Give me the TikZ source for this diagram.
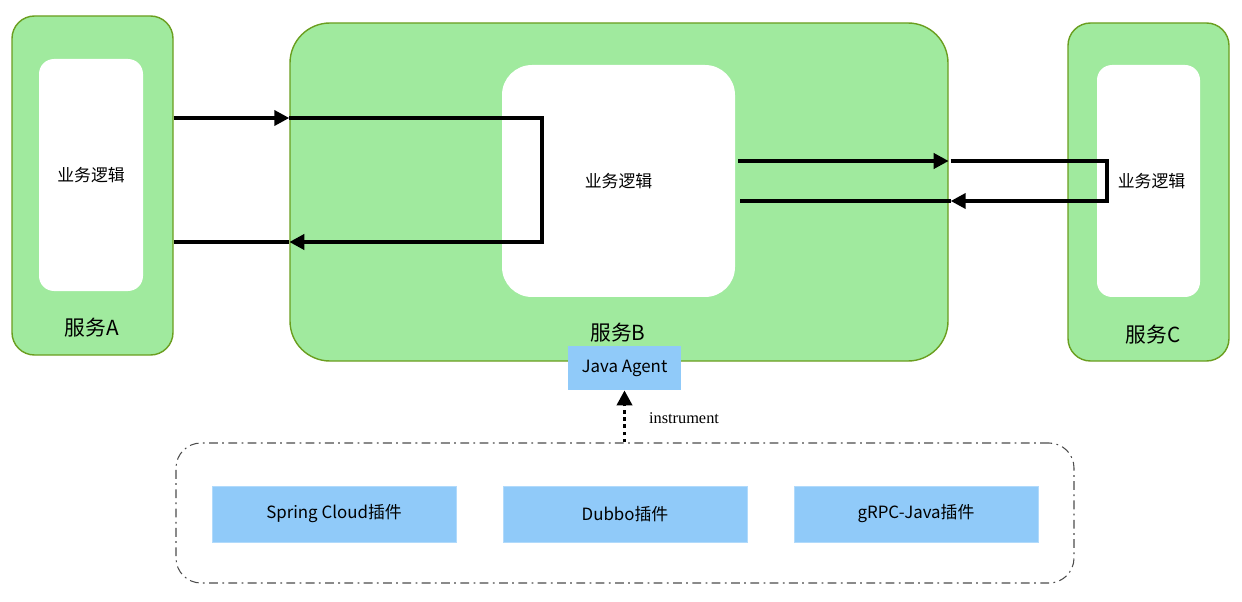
\documentclass[tikz,border=0pt]{standalone}
\usepackage{fontspec}
\setmainfont{Noto Sans CJK SC}
\newfontfamily\serifface{Liberation Serif}
\usetikzlibrary{arrows.meta,positioning}
\definecolor{svcgreen}{HTML}{A0EA9E}
\definecolor{svcborder}{HTML}{6A9E1F}
\definecolor{plugblue}{HTML}{90CAF9}
\begin{document}
\begin{tikzpicture}
	\tikzset{
		service/.style={draw=svcborder,fill=svcgreen,line width=0.8pt,rounded corners=0.4cm,inner sep=0},
		logic/.style={fill=white,rounded corners=0.3cm,inner sep=0,font=\fontsize{9.6}{11}\selectfont},
		svc label/.style={font=\fontsize{11.8}{13}\selectfont},
		plugin/.style={draw=plugblue!70!white,fill=plugblue,minimum width=4.88cm,minimum height=1.12cm,inner sep=0,font=\fontsize{9.6}{11}\selectfont},
		flow/.style={line width=2.1pt,-{Triangle[length=0.3cm,width=0.3cm]}},
		plain flow/.style={line width=2.1pt}
	}
	\useasboundingbox (0,0) rectangle (24.84,-12.04);
	% services
	\node(svcA)[service,rounded corners=0.45cm,minimum width=3.22cm,minimum height=6.78cm] at (1.85,-3.71){};
	\node(logicA)[logic,minimum width=2.08cm,minimum height=4.64cm] at (1.82,-3.5){业务逻辑};
	\node[svc label] at (1.84,-6.56){服务A};
	\node(svcB)[service,rounded corners=0.8cm,minimum width=13.16cm,minimum height=6.76cm] at (12.38,-3.84){};
	\node(logicB)[logic,rounded corners=0.6cm,minimum width=4.66cm,minimum height=4.64cm] at (12.37,-3.62){业务逻辑};
	\node[svc label] at (12.36,-6.66){服务B};
	\node(svcC)[service,rounded corners=0.45cm,minimum width=3.22cm,minimum height=6.76cm] at (22.97,-3.84){};
	\node(logicC)[logic,minimum width=2.06cm,minimum height=4.64cm] at (22.97,-3.62){\hspace*{0.12cm}业务逻辑};
	\node[svc label] at (23.06,-6.70){服务C};
	% agent and plugins
	\node(agent)[fill=plugblue,minimum width=2.26cm,minimum height=0.88cm,inner sep=0,font=\fontsize{9.6}{11}\selectfont] at (12.49,-7.36){\raisebox{-0.5pt}{Java Agent}};
	\node(plugins)[draw=black!70,line width=0.6pt,dash pattern=on 5pt off 2.5pt on 1pt off 2.5pt,rounded corners=0.5cm,minimum width=17.96cm,minimum height=2.8cm] at (12.5,-10.26){};
	\node(spring)[plugin] at (6.68,-10.28){Spring Cloud插件};
	\node(dubbo)[plugin] at (12.5,-10.28){Dubbo插件};
	\node(grpc)[plugin] at (18.32,-10.28){gRPC-Java插件};
	% calls A <-> B
	\coordinate(ab top) at (10.84,-2.36);
	\coordinate(ab bot) at (10.84,-4.84);
	\draw[flow](svcA.east |- ab top)to(svcB.west |- ab top);
	\draw[flow](svcB.west |- ab top)--(ab top)--(ab bot)--(svcB.west |- ab bot);
	\draw[plain flow](svcB.west |- ab bot)to(svcA.east |- ab bot);
	% calls B <-> C
	\coordinate(bc top) at (22.14,-3.22);
	\coordinate(bc bot) at (22.14,-4.02);
	\draw[flow]([xshift=0.06cm]logicB.east |- bc top)to(svcB.east |- bc top);
	\draw[flow]([xshift=0.04cm]svcB.east |- bc top)--(bc top)--(bc bot)--([xshift=0.04cm]svcB.east |- bc bot);
	\draw[plain flow]([xshift=0.04cm]svcB.east |- bc bot)to([xshift=0.1cm]logicB.east |- bc bot);
	% instrumentation
	\draw[line width=2.1pt,dotted,-{Triangle[length=0.3cm,width=0.3cm]}](plugins.north -| agent.south)to(agent.south);
	\node[font=\serifface\fontsize{9.3}{10}\selectfont] at (13.68,-8.36){instrument};
\end{tikzpicture}
\end{document}
